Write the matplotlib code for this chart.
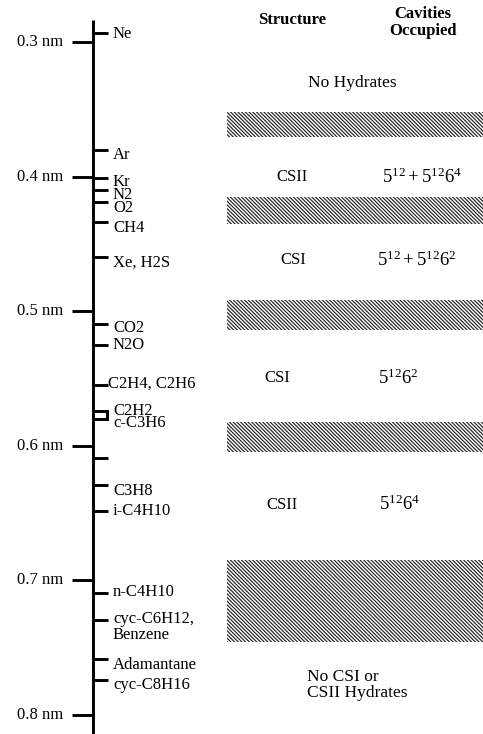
import numpy as np
import matplotlib
matplotlib.use('Agg')
import matplotlib.pyplot as plt

plt.rcParams['font.family'] = ['Liberation Serif', 'DejaVu Serif']
plt.rcParams['mathtext.fontset'] = 'custom'
plt.rcParams['mathtext.rm'] = 'Liberation Serif'
plt.rcParams['mathtext.it'] = 'Liberation Serif:italic'
plt.rcParams['hatch.linewidth'] = 0.85

# guest molecule diameters (nm)
molecules = ['Ne', 'Ar', 'Kr', 'N2', 'O2', 'CH4', 'Xe, H2S', 'CO2', 'N2O',
             'C2H4, C2H6', 'C2H2', 'c-C3H6', '', 'C3H8', 'i-C4H10',
             'n-C4H10', 'cyc-C6H12,\nBenzene', 'Adamantane', 'cyc-C8H16']
sizes = [0.293, 0.380, 0.401, 0.410, 0.419, 0.434, 0.460, 0.510, 0.525,
         0.555, 0.574, 0.580, 0.609, 0.629, 0.649,
         0.710, 0.730, 0.759, 0.774]

major_ticks = [0.3, 0.4, 0.5, 0.6, 0.7, 0.8]

# hatched boundaries between hydrate regions (nm)
band_lo = [0.352, 0.415, 0.492, 0.5825, 0.685]
band_hi = [0.371, 0.435, 0.514, 0.605, 0.746]

structures = ['CSII', 'CSI', 'CSI', 'CSII']
cavities = [r'$5^{12} + 5^{12}6^{4}$', r'$5^{12} + 5^{12}6^{2}$',
            r'$5^{12}6^{2}$', r'$5^{12}6^{4}$']
row_y = [0.4004, 0.462, 0.550, 0.644]

# layout (small nm offsets of labels, x positions in pixels)
label_dy = [0.001, 0.004, 0.003, 0.004, 0.0045, 0.0045, 0.004, 0.003, 0.0,
            -0.001, 0.0, 0.003, 0.0, 0.005, 0.0,
            -0.001, 0.005, 0.004, 0.004]
struct_x = [292, 293, 277, 282]
cav_x = [422, 417, 398, 400]

W, H = 483, 734
fig = plt.figure(figsize=(W / 100, H / 100), dpi=100)
ax = fig.add_axes([0, 0, 1, 1])
y_top = 0.3 - 42 / 1345
y_bot = 0.3 + (H - 42) / 1345
ax.set_xlim(0, W)
ax.set_ylim(y_bot, y_top)
ax.axis('off')

axis_x = 93
lw = 2.1
ax.plot([axis_x, axis_x], [0.3 - 22 / 1345, y_bot], color='black', lw=lw,
        solid_capstyle='butt')

for t in major_ticks:
    ax.plot([72, axis_x], [t, t], color='black', lw=lw, solid_capstyle='butt')
    ax.text(63, t, '%.1f nm' % t, ha='right', va='center', fontsize=12)

for name, d, dy in zip(molecules, sizes, label_dy):
    ax.plot([axis_x, 108], [d, d], color='black', lw=lw, solid_capstyle='butt')
    if name:
        x_lab = 108 if name.startswith('C2H4') else 113
        ax.text(x_lab, d + dy, name, ha='left', va='center', fontsize=12,
                linespacing=1.05)

# small bracket joining C2H2 / c-C3H6
ax.plot([107, 107], [sizes[10], sizes[11]], color='black', lw=lw)

for lo, hi in zip(band_lo, band_hi):
    ax.axhspan(lo, hi, xmin=227 / W, xmax=1, facecolor='white',
               edgecolor='#222222', lw=0, hatch='\\' * 9)

ax.text(292, 0.2838, 'Structure', ha='center', va='center', fontsize=12,
        fontweight='bold')
ax.text(423, 0.2855, 'Cavities\nOccupied', ha='center', va='center',
        fontsize=12, fontweight='bold', linespacing=1.1)
ax.text(352, 0.3305, 'No Hydrates', ha='center', va='center', fontsize=12.5)

for s, c, y, sx, cx in zip(structures, cavities, row_y, struct_x, cav_x):
    ax.text(sx, y, s, ha='center', va='center', fontsize=12)
    ax.text(cx, y, c, ha='center', va='center', fontsize=13.5)

ax.text(307, 0.778, 'No CSI or\nCSII Hydrates', ha='left', va='center',
        fontsize=12.5, linespacing=1.05)

fig.savefig('out.png', dpi=100)
